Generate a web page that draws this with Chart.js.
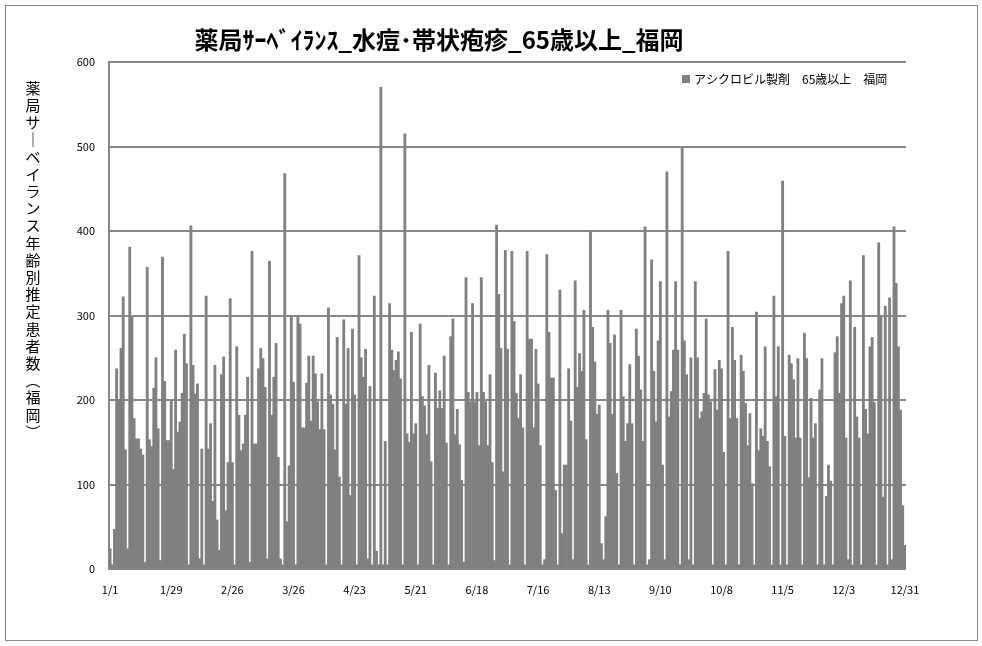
<!DOCTYPE html>
<html><head><meta charset="utf-8">
<script src="https://cdn.jsdelivr.net/npm/chart.js@4/dist/chart.umd.min.js"></script>
<style>html,body{margin:0;padding:0;background:#fff;}#wrap{width:982px;height:646px;position:relative;}</style>
</head><body><div id="wrap"><canvas id="c" width="982" height="646"></canvas></div>
<script>
const chartTitle = '薬局ｻｰﾍﾞｲﾗﾝｽ_水痘･帯状疱疹_65歳以上_福岡';
const yTitleChars = ['薬','局','サ','｜','ベ','イ','ラ','ン','ス','年','齢','別','推','定','患','者','数','︵','福','岡','︶'];
const legendLabel = 'アシクロビル製剤　65歳以上　福岡';
const tickLabels = ['1/1','1/29','2/26','3/26','4/23','5/21','6/18','7/16','8/13','9/10','10/8','11/5','12/3','12/31'];
const yTicks = [0,100,200,300,400,500,600];

const vals01 = [24,5,47,237,200,261,322,141,24,381,298,178,154,154,142,135,8,357,153,145,214,250,166,10,369,222,152,152,200,118];
const vals02 = [259,162,174,208,278,243,5,406,241,207,219,12,142,5,323,142,172,80,241,58,22,230,251,69,126,320,126,5,263,182,140];
const vals03 = [148,182,227,8,376,148,148,237,261,249,215,12,364,182,227,267,132,12,5,468,56,122,300,221,5,300,290,167,167,220,252,175];
const vals04 = [252,231,198,165,231,165,5,309,206,195,141,274,109,5,295,195,261,87,284,206,5,371,250,227,260,12,216,5,323,21];
const vals05 = [5,570,5,151,5,314,259,235,247,257,225,5,515,160,150,280,160,172,5,290,204,193,159,241,127,5,232,190,211,190,252];
const vals06 = [149,5,275,296,159,189,147,105,8,345,209,198,314,198,209,146,345,209,198,146,230,126,10,407,325,261,115,377,260,5,376,293];
const vals07 = [208,178,230,167,5,376,272,272,167,260,219,146,5,11,372,280,226,226,93,5,330,42,123,123,237,175,11,341,215,255,234];
const vals08 = [306,153,5,400,286,245,183,194,30,11,62,306,267,183,277,113,5,306,204,151,172,242,172,5,284,252,212,151,405,5,11,366];
const vals09 = [234,174,270,340,123,11,470,180,210,259,340,259,5,498,270,230,11,250,5,340,250,178,186,208,296,206,198,5,236,188,247];
const vals10 = [237,138,5,376,178,286,247,178,5,253,234,196,146,184,101,5,304,140,166,157,263,151,121,5,323,204,263,5,459,157,5];
const vals11 = [253,243,224,155,249,155,5,279,249,108,202,155,172,5,212,249,5,86,123,104,5,256,275,208,314,323,155,11,341,5,286];
const vals12 = [180,155,5,371,189,160,263,274,197,5,386,300,85,311,5,321,11,405,338,263,188,75,28];

const values = [].concat(vals01,vals02,vals03,vals04,vals05,vals06,vals07,vals08,vals09,vals10,vals11,vals12);
const categories = [];
for (let i = 0; i < values.length; i++) {
  const dt = new Date(2023, 0, 1 + i);
  categories.push((dt.getMonth() + 1) + '/' + dt.getDate());
}

const decor = {
  id: 'decor',
  beforeDraw(chart) {
    const ctx = chart.ctx;
    ctx.save();
    ctx.fillStyle = '#ffffff';
    ctx.fillRect(0, 0, chart.width, chart.height);
    ctx.restore();
  },
  afterDraw(chart) {
    const ctx = chart.ctx;
    ctx.save();
    ctx.strokeStyle = '#8a8a8a';
    ctx.lineWidth = 1;
    ctx.strokeRect(5.5, 5.5, 972, 635);
    ctx.fillStyle = '#000';
    ctx.font = 'bold 24px "Noto Sans CJK JP"';
    ctx.textAlign = 'center';
    ctx.textBaseline = 'middle';
    ctx.fillText(chartTitle, 439, 40);
    ctx.font = '15px "Noto Sans CJK JP"';
    yTitleChars.forEach((ch, i) => ctx.fillText(ch, 33, 88 + i * 17.2));
    ctx.fillStyle = '#808080';
    ctx.fillRect(682, 75, 8, 8);
    ctx.fillStyle = '#000';
    ctx.font = '12px "Noto Sans CJK JP"';
    ctx.textAlign = 'left';
    ctx.fillText(legendLabel, 694, 79);
    ctx.restore();
  }
};

new Chart(document.getElementById('c'), {
  type: 'bar',
  data: {
    labels: categories,
    datasets: [{
      label: legendLabel,
      data: values,
      backgroundColor: '#808080',
      borderWidth: 0,
      barPercentage: 1,
      categoryPercentage: 1
    }]
  },
  options: {
    responsive: false,
    devicePixelRatio: 1,
    animation: false,
    layout: { padding: { left: 0, right: 76, top: 62, bottom: 47 } },
    plugins: { legend: { display: false }, title: { display: false }, tooltip: { enabled: false } },
    scales: {
      x: {
        grid: { display: false, drawTicks: false },
        border: { display: false },
        afterFit(s) { s.height = 30; },
        ticks: {
          autoSkip: false, maxRotation: 0, minRotation: 0, padding: 14,
          color: '#000', font: { family: '"Noto Sans CJK JP"', size: 11 },
          callback(v, i) { const l = categories[i]; return (i % 28 === 0 && tickLabels.includes(l)) ? l : null; }
        }
      },
      y: {
        min: 0, max: 600,
        afterFit(s) { s.width = 109; },
        afterBuildTicks(s) { s.ticks = yTicks.map(v => ({ value: v })); },
        grid: { color: '#888888', lineWidth: 2, drawTicks: false },
        border: { display: true, color: '#888888', width: 2 },
        ticks: { padding: 14, color: '#000', font: { family: '"Noto Sans CJK JP"', size: 11 } }
      }
    }
  },
  plugins: [decor]
});
</script>
</body></html>
